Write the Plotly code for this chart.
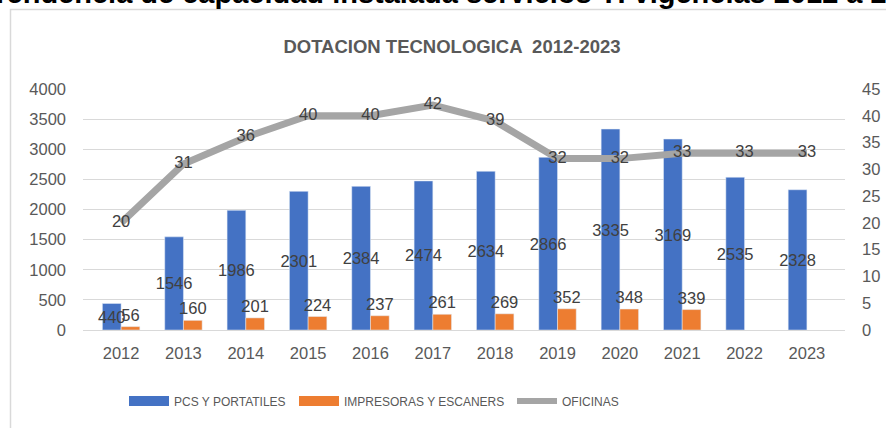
import plotly.graph_objects as go

years = ['2012', '2013', '2014', '2015', '2016', '2017', '2018', '2019', '2020', '2021', '2022', '2023']
pcs_portatiles = [440, 1546, 1986, 2301, 2384, 2474, 2634, 2866, 3335, 3169, 2535, 2328]
impresoras_escaners = [56, 160, 201, 224, 237, 261, 269, 352, 348, 339, None, None]
oficinas = [20, 31, 36, 40, 40, 42, 39, 32, 32, 33, 33, 33]

names = ['PCS Y PORTATILES', 'IMPRESORAS Y ESCANERS', 'OFICINAS']
title_text = 'DOTACION TECNOLOGICA \u00a02012-2023'
page_title = 'Tendencia de capacidad instalada servicios TI vigencias 2012 a 2023'

BLUE = '#4472C4'
ORANGE = '#ED7D31'
GRAY = '#A5A5A5'
TXT = '#404040'
AX = '#595959'
FONT = 'Liberation Sans, Arial, sans-serif'

fig = go.Figure()

fig.add_trace(go.Bar(
    x=years, y=pcs_portatiles, name=names[0], marker_color=BLUE,
    text=[str(v) for v in pcs_portatiles], textposition='inside',
    insidetextanchor='middle', constraintext='none', textangle=0,
    textfont=dict(color=TXT, size=16.5, family=FONT),
    insidetextfont=dict(color=TXT, size=16.5, family=FONT),
    showlegend=False, cliponaxis=False,
))
fig.add_trace(go.Bar(
    x=years, y=impresoras_escaners, name=names[1], marker_color=ORANGE,
    text=[('' if v is None else str(v)) for v in impresoras_escaners],
    textposition='outside', constraintext='none', textangle=0,
    textfont=dict(color=TXT, size=16.5, family=FONT),
    outsidetextfont=dict(color=TXT, size=16.5, family=FONT),
    showlegend=False, cliponaxis=False,
))
fig.add_trace(go.Scatter(
    x=years, y=oficinas, name=names[2], yaxis='y2', mode='lines+text',
    line=dict(color=GRAY, width=7),
    text=[str(v) for v in oficinas], textposition='middle center',
    textfont=dict(color=TXT, size=16.5, family=FONT),
    showlegend=False, cliponaxis=False,
))

# legend entries (one legend per entry so each can be placed like the original)
for nm, col, lw, lg in [(names[0], BLUE, 10, 'legend'), (names[1], ORANGE, 10, 'legend2'), (names[2], GRAY, 6, 'legend3')]:
    fig.add_trace(go.Scatter(x=[None], y=[None], mode='lines', name=nm,
                             line=dict(color=col, width=lw), legend=lg, showlegend=True))

def px_x(p):
    return (p - 83) / 762.0

def px_y(p):
    return (330 - p) / 241.0

leg_common = dict(orientation='h', yanchor='middle', xanchor='left', itemwidth=40,
                  font=dict(family=FONT, size=12, color=AX), bgcolor='rgba(0,0,0,0)',
                  tracegroupgap=0)
fig.update_layout(
    width=886, height=428,
    margin=dict(l=83, r=41, t=89, b=98, autoexpand=False),
    paper_bgcolor='white', plot_bgcolor='white',
    barmode='group', bargap=0.4, bargroupgap=0,
    title=dict(text=title_text, x=452 / 886, xanchor='center', y=1 - 47 / 428, yanchor='middle',
               font=dict(family=FONT, size=18.5, color=AX, weight='bold')),
    xaxis=dict(type='category', showgrid=False, showline=False, ticks='', zeroline=False,
               tickfont=dict(family=FONT, size=16.5, color=AX), ticklabelstandoff=11),
    yaxis=dict(range=[0, 4000], dtick=500, showgrid=True, gridcolor='#D9D9D9', gridwidth=1.3,
               zeroline=True, zerolinecolor='#D9D9D9', zerolinewidth=1.3, showline=False,
               tickfont=dict(family=FONT, size=16.5, color=AX), ticklabelstandoff=16),
    yaxis2=dict(range=[0, 45], dtick=5, overlaying='y', side='right', showgrid=False,
                zeroline=False, showline=False,
                tickfont=dict(family=FONT, size=16.5, color=AX), ticklabelstandoff=16),
    legend=dict(x=px_x(124), y=px_y(401), **leg_common),
    legend2=dict(x=px_x(294), y=px_y(401), **leg_common),
    legend3=dict(x=px_x(512), y=px_y(401), **leg_common),
    shapes=[dict(type='rect', xref='paper', yref='paper', x0=px_x(10.5), x1=px_x(900),
                 y0=px_y(450), y1=px_y(9.5), line=dict(color='#D9D9D9', width=1.5),
                 fillcolor='rgba(0,0,0,0)', layer='above')],
    annotations=[dict(text=page_title, xref='paper', yref='paper', x=px_x(-11), xanchor='left',
                      y=px_y(-7), yanchor='middle', showarrow=False,
                      font=dict(family='Liberation Sans, Arial', size=29, color='black', weight='bold'))],
)

fig.write_html('out.html', config={'displayModeBar': False},
               post_script="document.body.style.margin='0px';")
